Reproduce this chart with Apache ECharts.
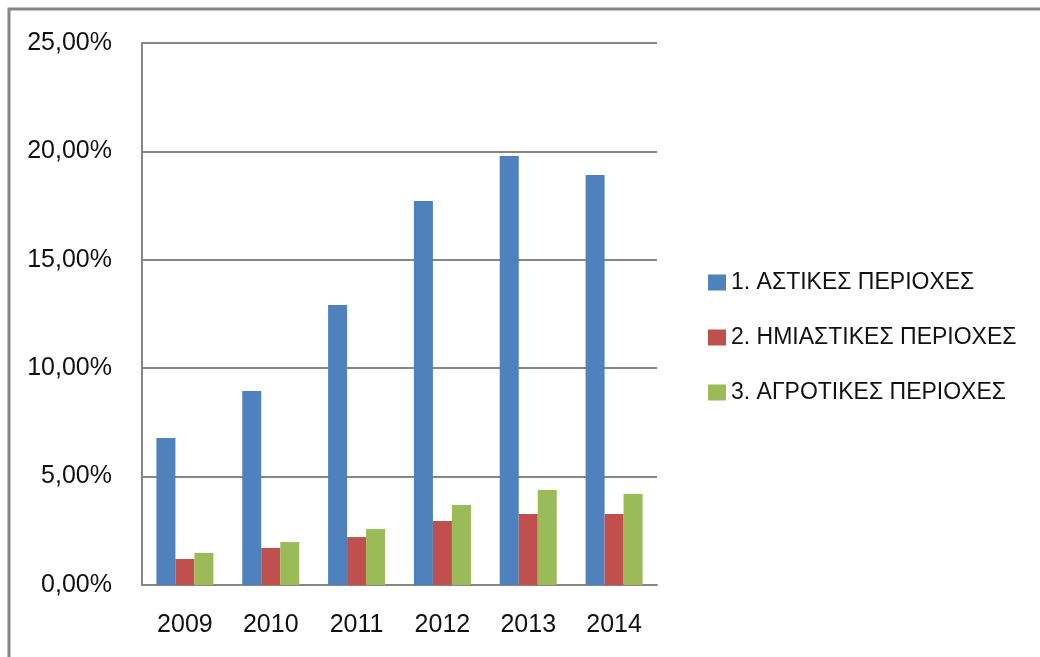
<!DOCTYPE html>
<html>
<head>
<meta charset="utf-8">
<script src="https://cdn.jsdelivr.net/npm/echarts@6/dist/echarts.min.js"></script>
<style>
  html, body { margin: 0; padding: 0; background: #fff; }
  #chart { width: 1040px; height: 657px; }
</style>
</head>
<body>
<div id="chart"></div>
<script>
var years = ["2009", "2010", "2011", "2012", "2013", "2014"];
var seriesNames = ["1. ΑΣΤΙΚΕΣ ΠΕΡΙΟΧΕΣ", "2. ΗΜΙΑΣΤΙΚΕΣ ΠΕΡΙΟΧΕΣ", "3. ΑΓΡΟΤΙΚΕΣ ΠΕΡΙΟΧΕΣ"];
// percent values
var urban = [6.78, 8.95, 12.92, 17.71, 19.79, 18.91];
var semiUrban = [1.20, 1.71, 2.21, 2.95, 3.27, 3.27];
var rural = [1.48, 1.98, 2.58, 3.69, 4.38, 4.20];
var yTicks = [0, 5, 10, 15, 20, 25];
var yTickLabels = ["0,00%", "5,00%", "10,00%", "15,00%", "20,00%", "25,00%"];

var colors = ["#4F81BD", "#C0504D", "#9BBB59"];
var gray = "#868686";
var font = "'Liberation Sans', Arial, sans-serif";

var myChart = echarts.init(document.getElementById("chart"));
myChart.setOption({
  animation: false,
  color: colors,
  graphic: [
    {
      // outer chart frame (only top and left edges are visible)
      type: "rect",
      shape: { x: 9, y: 9, width: 1200, height: 800 },
      style: { fill: null, stroke: gray, lineWidth: 3 },
      silent: true
    }
  ],
  grid: { left: 142, top: 43, right: 383, bottom: 72 },
  legend: {
    orient: "vertical",
    left: 703,
    top: 266,
    itemWidth: 18,
    itemHeight: 16,
    itemGap: 32,
    icon: "rect",
    textStyle: { fontFamily: font, fontSize: 23, color: "#111" },
    data: seriesNames
  },
  xAxis: {
    type: "category",
    data: years,
    axisLine: { lineStyle: { color: gray, width: 2 } },
    axisTick: { show: false },
    axisLabel: { fontFamily: font, fontSize: 25, color: "#111", margin: 28 }
  },
  yAxis: {
    type: "value",
    min: yTicks[0],
    max: yTicks[yTicks.length - 1],
    interval: 5,
    axisLine: { show: true, lineStyle: { color: gray, width: 2 } },
    axisTick: { show: false },
    splitLine: { lineStyle: { color: gray, width: 2 } },
    axisLabel: {
      fontFamily: font, fontSize: 25, color: "#111", margin: 30,
      formatter: function (v) {
        var i = yTicks.indexOf(v);
        return i >= 0 ? yTickLabels[i] : "";
      }
    }
  },
  series: [
    { name: seriesNames[0], type: "bar", data: urban, barWidth: 19, barGap: "0%" },
    { name: seriesNames[1], type: "bar", data: semiUrban, barWidth: 19, barGap: "0%" },
    { name: seriesNames[2], type: "bar", data: rural, barWidth: 19, barGap: "0%" }
  ]
});
</script>
</body>
</html>
